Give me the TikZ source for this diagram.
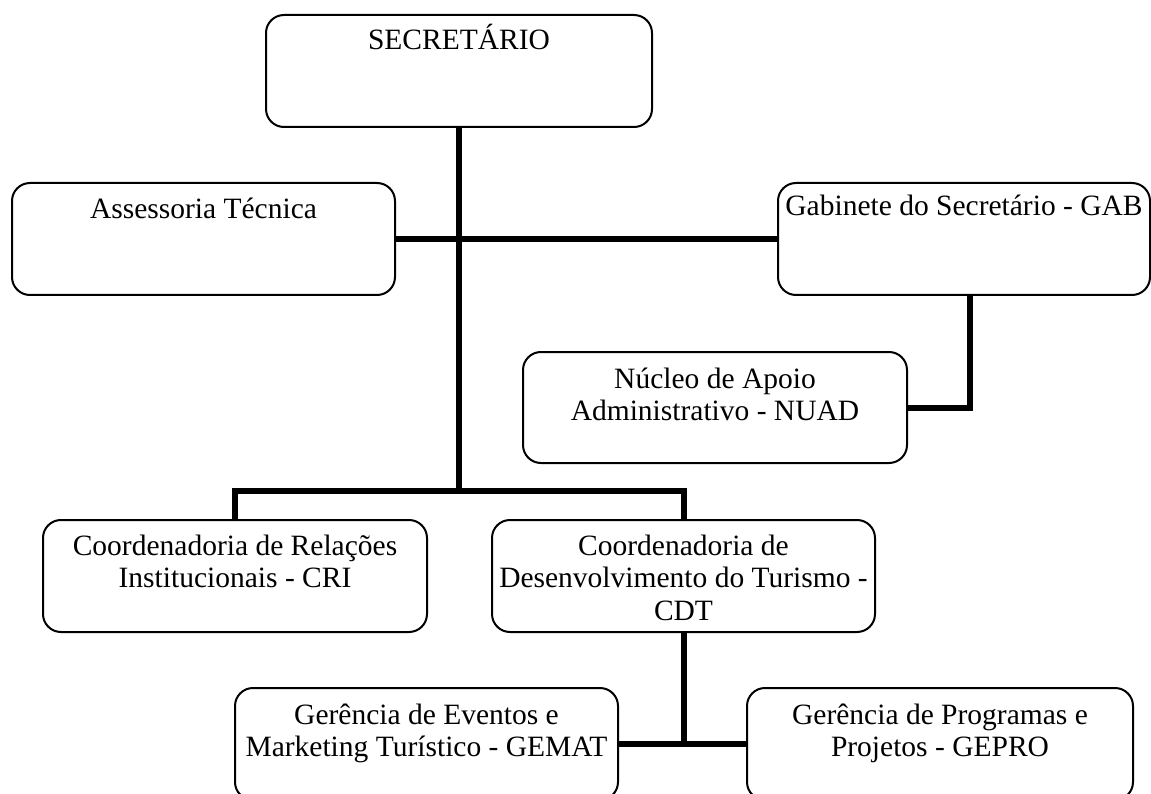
\documentclass[tikz,border=0pt]{standalone}
\usepackage{fontspec}
\setmainfont{Liberation Serif}
\usepackage{tikz}
\usetikzlibrary{positioning,calc,backgrounds}
\newcommand{\orgstrut}{\rule{0pt}{27pt}}
\tikzset{
    org box/.style={
        rectangle,
        draw=black,
        line width=2pt,
        rounded corners=18pt,
        minimum width=384pt,
        minimum height=112pt,
        inner sep=0pt,
        outer sep=0pt,
        fill=white,
    },
    org text/.style={
        anchor=north,
        inner sep=0pt,
        align=center,
        font=\fontsize{29.5}{32.5}\selectfont,
    },
    org link/.style={line width=6pt, draw=black},
}

\begin{document}
\begin{tikzpicture}[x=1pt,y=-1pt]
    \useasboundingbox (0,0) rectangle (1151,794);
    \clip (0,0) rectangle (1151,794);

    %Boxes of the chart
    \node[org box, minimum width=386pt] (sec) at (459,71) {};
    \node[org box, minimum width=383pt] (ass) at (203.5,239) {};
    \node[org box, minimum width=372pt] (gab) at (964,239) {};
    \node[org box, minimum height=111pt] (nuad) at (715,407.5) {};
    \node[org box] (cri) at (235,576) {};
    \node[org box, minimum width=383pt] (cdt) at (683.5,576) {};
    \node[org box, minimum width=383pt] (gemat) at (426.5,744) {};
    \node[org box, minimum width=386pt] (gepro) at (940,744) {};

    \node[org text] (sec-text) at ($(sec.north)+(0,7)$) {\orgstrut SECRETÁRIO};
    \node[org text] (ass-text) at ($(ass.north)+(0,8)$) {\orgstrut Assessoria Técnica};
    \node[org text] (gab-text) at ($(gab.north)+(0,5)$) {\orgstrut Gabinete do Secretário - GAB};
    \node[org text] (nuad-text) at ($(nuad.north)+(0,9)$) {\orgstrut Núcleo de Apoio\\Administrativo - NUAD};
    \node[org text] (cri-text) at ($(cri.north)+(0,8)$) {\orgstrut Coordenadoria de Relações\\Institucionais - CRI};
    \node[org text] (cdt-text) at ($(cdt.north)+(0,8)$) {\orgstrut Coordenadoria de\\Desenvolvimento do Turismo -\\CDT};
    \node[org text] (gemat-text) at ($(gemat.north)+(0,9)$) {\orgstrut Gerência de Eventos e\\Marketing Turístico - GEMAT};
    \node[org text] (gepro-text) at ($(gepro.north)+(0,9)$) {\orgstrut Gerência de Programas e\\Projetos - GEPRO};

    \coordinate (bus) at (459,491);

    %Connectors
    \begin{scope}[on background layer]
    \draw[org link] (sec.south) -- (bus);
    \draw[org link] (ass.east) -- (gab.west);
    \draw[org link] (cri.north) -- (cri.north |- bus) -- (cdt.north |- bus) -- (cdt.north);
    \draw[org link] ([xshift=6pt]gab.south) |- (nuad.east);
    \draw[org link] (cdt.south) -- (cdt.south |- gemat.east);
    \draw[org link] (gemat.east) -- (gepro.west);
    \end{scope}
\end{tikzpicture}
\end{document}
